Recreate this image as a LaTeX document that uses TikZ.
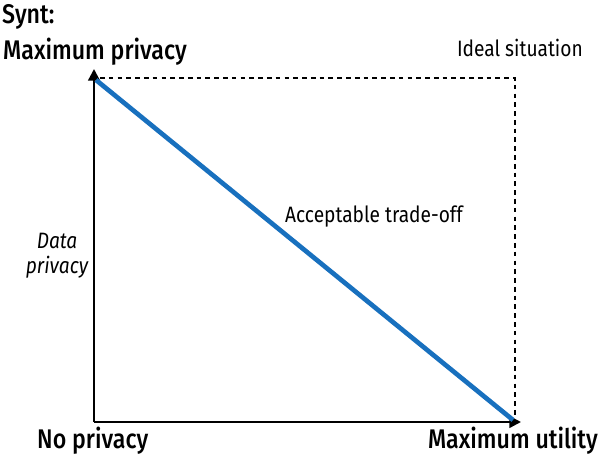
\documentclass[tikz,border=0pt]{standalone}
\usepackage{fontspec}
\setmainfont{Fira Sans}[FakeStretch=0.86, BoldFont=* Medium]
\usetikzlibrary{arrows.meta,positioning}

\definecolor{tradeblue}{RGB}{24,112,190}

\begin{document}
\begin{tikzpicture}[x=0.03cm,y=-0.03cm]
  \tikzset{
    axis/.style={line width=2pt,-{Triangle[length=10pt,width=10pt]}},
    bound/.style={line width=1.6pt,dash pattern=on 4pt off 3.5pt},
    head/.style={inner sep=0pt,font=\fontsize{23}{26}\selectfont\bfseries},
    lbl/.style={inner sep=0pt,font=\fontsize{19}{22}\selectfont}
  }
  \useasboundingbox (0,0) rectangle (600,458);

  % corners of the plot
  \coordinate (origin) at (94,422);
  \coordinate (ytip) at (94,69);
  \coordinate (xtip) at (521,422);
  \coordinate (ystart) at (100,78);
  \coordinate (corner) at (515,78);
  \coordinate (xend) at (515,416);
  \coordinate (best) at (96,80);
  \coordinate (worst) at (513,420);

  \draw[bound] (ystart) -- (corner) -- (xend);
  \draw[axis] (origin) -- (ytip);
  \draw[axis] (origin) -- (xtip);
  \draw[tradeblue,line width=4pt] (best) -- (worst);

  % labels
  \node[head,anchor=base west] (synt) at (2,24) {Synt:};
  \node[head,anchor=base west] (maxpriv) at (3,60) {Maximum privacy};
  \node[head,anchor=base west] (nopriv) at (37,448) {No privacy};
  \node[head,anchor=base east] (maxutil) at (598,448) {Maximum utility};
  \node[lbl,anchor=base east] (ideal) at (583,57) {Ideal situation};
  \node[lbl,anchor=base west] (tradeoff) at (285,222) {Acceptable trade-off};
  \node[lbl,align=center,font=\fontsize{19}{21}\selectfont\itshape] (datapriv) at (57,256) {Data\\privacy};
\end{tikzpicture}
\end{document}
